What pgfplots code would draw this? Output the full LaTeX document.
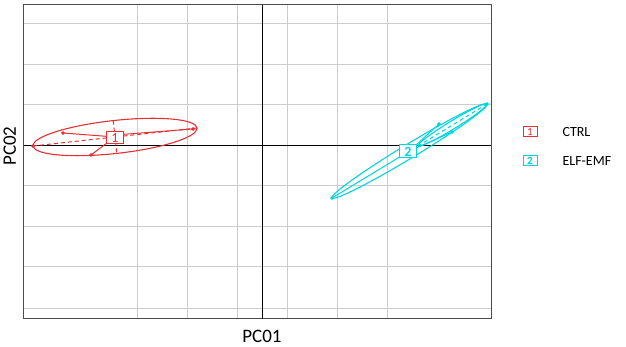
\documentclass[border=0pt]{standalone}
\usepackage{fontspec}
\setmainfont{Carlito}
\usepackage{pgfplots}
\pgfplotsset{compat=1.18}
\definecolor{cred}{RGB}{232,48,52}
\definecolor{ccyan}{RGB}{0,212,222}
\begin{document}
\begin{tikzpicture}
\begin{axis}[
 x=1pt, y=1pt,
 xmin=-238, xmax=229, ymin=-174, ymax=140,
 axis line style={draw=black!70, line width=1pt},
 xtick={-125,-75,-25,25,75,125},
 ytick={-163,-121.5,-81,-40.5,40.5,81,121.5},
 xticklabels={}, yticklabels={},
 major tick length=0pt,
 grid=major,
 major grid style={draw=black!20, line width=0.7pt},
 clip=false,
]
% canvas extent
\path (axis cs:-262,-202) rectangle (axis cs:364,145);
% zero lines
\draw[black, line width=0.9pt] (axis cs:0,-174) -- (axis cs:0,140);
\draw[black, line width=0.9pt] (axis cs:-238,0) -- (axis cs:229,0);

% ---- CTRL (red) ----
\draw[cred, line width=1.1pt, rotate around={6.26:(axis cs:-147,8)}] (axis cs:-147,8) ellipse [x radius=82.5pt, y radius=16.5pt];
\addplot[cred, line width=1pt, dash pattern=on 4pt off 3pt, mark=none] coordinates {(-229,-1) (-65,17)};
\addplot[cred, line width=1pt, dash pattern=on 4pt off 3pt, mark=none] coordinates {(-148.8,24.4) (-145.2,-8.4)};
\addplot[cred, line width=1pt, mark=none] coordinates {(-147,8) (-199,12)};
\addplot[cred, line width=1pt, mark=none] coordinates {(-147,8) (-171,-10)};
\addplot[cred, line width=1pt, mark=none] coordinates {(-147,10) (-69,16)};
\addplot[cred, only marks, mark=*, mark size=1.6pt] coordinates {(-199,12) (-171,-10) (-229,-1) (-69,16)};
\addplot[cred, only marks, mark=none, nodes near coords={\textcolor{cred}{1}}, nodes near coords align={center},
  every node near coord/.style={draw=cred, fill=white, inner sep=0pt, minimum width=17pt, minimum height=12pt, line width=1pt, font=\fontsize{14}{14}\selectfont}]
  coordinates {(-147,7)};

% ---- ELF-EMF (cyan) ----
\draw[ccyan, line width=1.1pt, rotate around={31.2:(axis cs:147.5,-6)}] (axis cs:147.5,-6) ellipse [x radius=90.6pt, y radius=7pt];
\draw[ccyan, line width=1.1pt, rotate around={31.3:(axis cs:190.5,20)}] (axis cs:190.5,20) ellipse [x radius=40.4pt, y radius=4pt];
\addplot[ccyan, line width=1pt, dash pattern=on 4pt off 3pt, mark=none] coordinates {(156,-1) (225,41)};
\addplot[ccyan, line width=1pt, mark=none] coordinates {(147.5,-6) (70,-53)};
\addplot[ccyan, line width=1pt, mark=none] coordinates {(147.5,-6) (177,21)};
\addplot[ccyan, line width=1pt, mark=none] coordinates {(147.5,-6) (190,13)};
\addplot[ccyan, only marks, mark=*, mark size=1.6pt] coordinates {(70,-53) (225,41) (177,21) (190,13)};
\addplot[ccyan, only marks, mark=none, nodes near coords={\textcolor{ccyan}{2}}, nodes near coords align={center},
  every node near coord/.style={draw=ccyan, fill=white, inner sep=0pt, minimum width=17pt, minimum height=13pt, line width=1pt, font=\bfseries\fontsize{14}{14}\selectfont}]
  coordinates {(146,-6.5)};

% ---- legend ----
\node[draw=cred, fill=white, text=cred, inner sep=0pt, minimum width=14pt, minimum height=10pt, line width=1pt, font=\fontsize{11}{11}\selectfont] at (axis cs:268,13) {1};
\node[anchor=west, font=\fontsize{14}{16}\selectfont] at (axis cs:297,12.5) {CTRL};
\node[draw=ccyan, fill=white, text=ccyan, inner sep=0pt, minimum width=14pt, minimum height=10pt, line width=1pt, font=\bfseries\fontsize{11}{11}\selectfont] at (axis cs:268,-15.5) {2};
\node[anchor=west, font=\fontsize{14}{16}\selectfont] at (axis cs:297,-16) {ELF-EMF};

% ---- axis titles ----
\node[anchor=base, font=\fontsize{19}{22}\selectfont] at (axis cs:0,-198) {PC01};
\node[rotate=90, anchor=base, font=\fontsize{19}{22}\selectfont] at (axis cs:-246,-1) {PC02};
\end{axis}
\end{tikzpicture}
\end{document}
